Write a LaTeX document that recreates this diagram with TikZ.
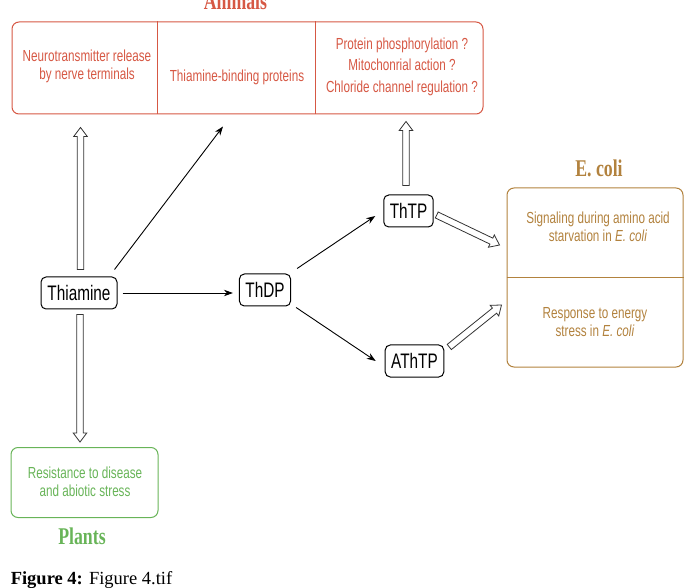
\documentclass[tikz,border=0pt]{standalone}
\usepackage{fontspec}
\setmainfont{Liberation Sans}
\newfontfamily\narrowsans[FakeStretch=0.73]{Liberation Sans}
\newfontfamily\narrowserif[FakeStretch=0.74]{Liberation Serif}
\newfontfamily\captionserif{Liberation Serif}
\usetikzlibrary{arrows.meta, positioning, calc}

\definecolor{animalred}{RGB}{214,88,68}
\definecolor{ecolibrown}{RGB}{178,130,62}
\definecolor{plantgreen}{RGB}{104,180,88}

% open block arrow from #1 to #2
\newcommand{\hollowarrow}[2]{%
    \coordinate (hb) at ($(#2)!9pt!(#1)$);
    \draw[hollow] ($(#1)!3.3pt!90:(#2)$) -- ($(hb)!3.3pt!-90:(#1)$) -- ($(hb)!6.8pt!-90:(#1)$) -- (#2)
        -- ($(hb)!6.8pt!90:(#1)$) -- ($(hb)!3.3pt!90:(#1)$) -- ($(#1)!3.3pt!-90:(#2)$) -- cycle;
}

\begin{document}
\begin{tikzpicture}[
            x = 1pt, y = -1pt, % one unit per pixel, y downwards
            > = {Stealth[length=9pt, width=6.5pt]}, % arrow head style
            line width = 0.9pt % line style
        ]

        \tikzstyle{molecule}=[
            draw = black,
            line width = 1pt,
            rounded corners = 5pt,
            inner xsep = 6pt,
            minimum height = 32pt,
            font = \narrowsans\fontsize{21}{24}\selectfont
        ]
        \tikzstyle{frame}=[
            draw,
            line width = 1pt,
            rounded corners = 7pt,
            inner sep = 0pt
        ]
        \tikzstyle{boxtext}=[
            align = center,
            font = \narrowsans\fontsize{16}{18}\selectfont
        ]
        \tikzstyle{title}=[
            font = \narrowserif\bfseries\fontsize{24}{26}\selectfont
        ]
        \tikzstyle{hollow}=[draw = black!80, line width = 0.8pt, fill = white]

        \useasboundingbox (0,0) rectangle (686,588);

        % animals
        \node[frame, draw=animalred, minimum width=471pt, minimum height=92pt] (animals) at (247.5,68) {};
        \draw[animalred, line width=1pt] ([xshift=146pt]animals.north west) -- ([xshift=146pt]animals.south west);
        \draw[animalred, line width=1pt] ([xshift=304pt]animals.north west) -- ([xshift=304pt]animals.south west);
        \node[boxtext, text=animalred] (neuro) at (87,66) {Neurotransmitter release\\by nerve terminals};
        \node[boxtext, text=animalred] (binding) at (237,77) {Thiamine-binding proteins};
        \node[boxtext, text=animalred] (phos) at (402,66.5) {Protein phosphorylation ?\\[3.5pt]Mitochonrial action ?\\[3.5pt]Chloride channel regulation ?};
        \node[title, text=animalred, anchor=base] (animaltitle) at (235.5,10) {Animals};

        % e. coli
        \node[frame, draw=ecolibrown, minimum width=176pt, minimum height=179pt] (ecoli) at (595,277.5) {};
        \draw[ecolibrown, line width=1pt] (ecoli.west) -- (ecoli.east);
        \node[boxtext, text=ecolibrown] (signal) at (598,227) {Signaling during amino acid\\starvation in \textit{E. coli}};
        \node[boxtext, text=ecolibrown] (energy) at (595,322) {Response to energy\\stress in \textit{E. coli}};
        \node[title, text=ecolibrown, anchor=base] (ecolititle) at (599,177) {E. coli};

        % plants
        \node[frame, draw=plantgreen, minimum width=147pt, minimum height=70pt] (plants) at (84.5,482.5) {};
        \node[boxtext, text=plantgreen] (resist) at (85,482) {Resistance to disease\\and abiotic stress};
        \node[title, text=plantgreen, anchor=base] (planttitle) at (82,544) {Plants};

        % molecules
        \node[molecule, minimum width=76pt] (thiamine) at (79,293) {Thiamine};
        \node[molecule] (thdp) at (265,290) {ThDP};
        \node[molecule] (thtp) at (408.5,211) {ThTP};
        \node[molecule] (athtp) at (414.5,361) {AThTP};

        \draw[->] ([xshift=5pt]thiamine.east) -- ([xshift=-6pt]thdp.west |- thiamine.east);
        \draw[->] ($(thiamine.north east)+(-3,-7)$) -- ($(binding.south |- animals.south)+(-14,12)$);
        \draw[->] ($(thdp.north east)+(6,-5)$) -- ($(thtp.west)+(-8,5)$);
        \draw[->] ($(thdp.south east)+(5,1)$) -- ($(athtp.west)+(-9,0)$);

        % open arrows
        \coordinate (tup1) at ($(thiamine.north)+(1.5,-7)$);
        \coordinate (tup2) at ($(thiamine.north |- animals.south)+(1.5,13)$);
        \coordinate (tdn1) at ($(thiamine.south)+(1,5)$);
        \coordinate (tdn2) at ($(thiamine.south |- plants.north)+(1,-5)$);
        \coordinate (pup1) at ($(thtp.north)+(-2.5,-9)$);
        \coordinate (pup2) at ($(thtp.north |- animals.south)+(-2.5,7)$);
        \coordinate (pe1) at ($(thtp.east)+(3,4)$);
        \coordinate (pe2) at ($(ecoli.west)+(-7,-32.5)$);
        \coordinate (ae1) at ($(athtp.east)+(5,-14)$);
        \coordinate (ae2) at ($(ecoli.west)+(-5,27.5)$);

        \hollowarrow{tup1}{tup2}
        \hollowarrow{tdn1}{tdn2}
        \hollowarrow{pup1}{pup2}
        \hollowarrow{pe1}{pe2}
        \hollowarrow{ae1}{ae2}

        \node[anchor=base west, font=\captionserif\fontsize{18.5}{20}\selectfont] (caption) at (7,584) {\textbf{Figure 4:} Figure 4.tif};

\end{tikzpicture}
\end{document}
